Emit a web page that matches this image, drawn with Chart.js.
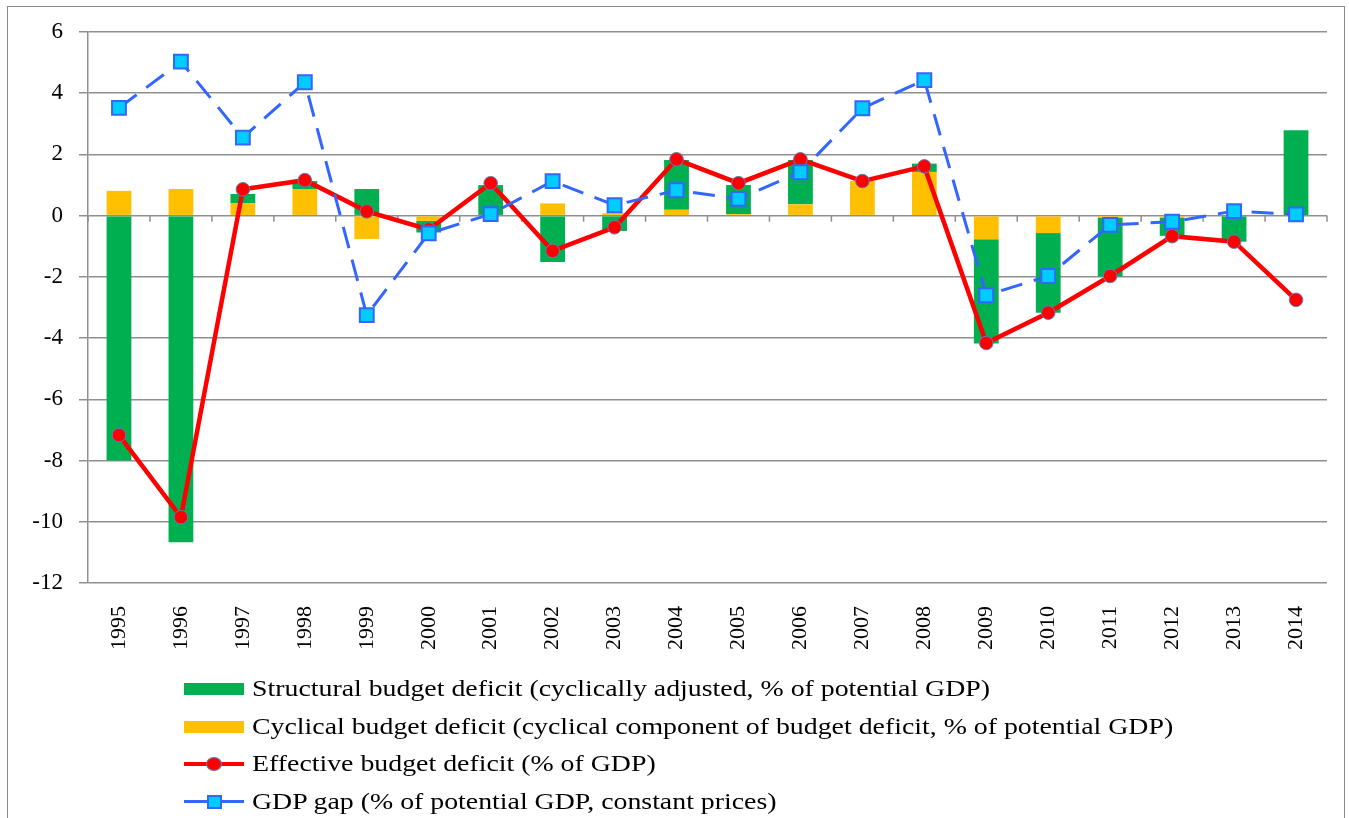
<!DOCTYPE html>
<html>
<head>
<meta charset="utf-8">
<script src="https://cdn.jsdelivr.net/npm/chart.js@4.4.1/dist/chart.umd.min.js"></script>
<style>
  html, body { margin: 0; padding: 0; background: #fff; }
  #wrap { position: relative; width: 1349px; height: 818px; overflow: hidden; }
  #frame { position: absolute; left: 7px; top: 6px; width: 1338px; height: 900px; border: 1.5px solid #8a8a8a; box-sizing: border-box; pointer-events: none; }
  canvas { position: absolute; left: 0; top: 0; }
  #legend { position: absolute; left: 184px; top: 670px; font-family: 'Liberation Serif', 'Times New Roman', serif; font-size: 23px; color: #000; }
  .row { display: flex; align-items: center; height: 37.7px; white-space: nowrap; }
  .mk { position: relative; width: 60px; height: 20px; margin-right: 8px; flex: none; }
  .sw { position: absolute; left: 0; top: 4px; width: 60px; height: 12px; }
  .ln { position: absolute; left: 0; width: 60px; }
  .dot { position: absolute; box-sizing: border-box; }
  .txt { display: inline-block; transform: scaleX(1.21); transform-origin: left center; }
</style>
</head>
<body>
<div id="wrap">
  <canvas id="c" width="1349" height="818"></canvas>
  <div id="frame"></div>
  <div id="legend"></div>
</div>
<script>
const years = ['1995','1996','1997','1998','1999','2000','2001','2002','2003','2004','2005','2006','2007','2008','2009','2010','2011','2012','2013','2014'];
const structural = [-8.0, -10.67, 0.30, 0.26, 0.87, -0.38, 1.0, -1.51, -0.5, 1.63, 0.95, 1.45, 0, 0.27, -3.41, -2.6, -1.92, -0.6, -0.85, 2.79];
const cyclical   = [0.81, 0.87, 0.41, 0.87, -0.76, -0.17, 0.0, 0.40, 0.08, 0.19, 0.05, 0.37, 1.13, 1.43, -0.77, -0.57, -0.07, -0.06, 0.0, 0.0];
const effective  = [-7.17, -9.85, 0.86, 1.16, 0.14, -0.45, 1.06, -1.15, -0.38, 1.84, 1.06, 1.84, 1.13, 1.61, -4.16, -3.17, -1.97, -0.67, -0.85, -2.75];
const gdpGap     = [3.52, 5.03, 2.55, 4.36, -3.25, -0.58, 0.05, 1.13, 0.34, 0.83, 0.55, 1.42, 3.51, 4.43, -2.6, -1.97, -0.3, -0.2, 0.15, 0.04];
const yTicks = [6, 4, 2, 0, -2, -4, -6, -8, -10, -12];

const labelStructural = 'Structural budget deficit (cyclically  adjusted, % of potential GDP)';
const labelCyclical = 'Cyclical budget deficit (cyclical  component of budget deficit, % of potential GDP)';
const labelEffective = 'Effective budget deficit (% of GDP)';
const labelGap = 'GDP gap (% of potential GDP, constant prices)';

const GREEN = '#00B050', YELLOW = '#FFC000', RED = '#FF0000', BLUE = '#3366FF', CYAN = '#00CCFF';
const GRID = '#8f8f8f';

const zeroTicks = {
  id: 'zeroTicks',
  beforeDatasetsDraw(chart) {
    const x = chart.scales.x, y = chart.scales.y;
    const y0 = y.getPixelForValue(0);
    const step = x.getPixelForValue(1) - x.getPixelForValue(0);
    const ctx = chart.ctx;
    ctx.save();
    ctx.strokeStyle = GRID;
    ctx.lineWidth = 1.5;
    ctx.beginPath();
    for (let i = 0; i <= years.length; i++) {
      const px = x.getPixelForValue(Math.min(i, years.length - 1)) + (i < years.length ? -step / 2 : step / 2);
      ctx.moveTo(px, y0);
      ctx.lineTo(px, y0 + 6);
    }
    ctx.stroke();
    ctx.restore();
  }
};

const chart = new Chart(document.getElementById('c'), {
  data: {
    labels: years,
    datasets: [
      { type: 'line', label: labelGap, data: gdpGap, stack: 'gap', borderColor: BLUE, borderWidth: 3, borderDash: [22, 12],
        pointStyle: 'rect', pointRadius: 9.8, pointBackgroundColor: CYAN, pointBorderColor: BLUE, pointBorderWidth: 2, tension: 0 },
      { type: 'line', label: labelEffective, data: effective, stack: 'eff', borderColor: RED, borderWidth: 4.5,
        pointStyle: 'circle', pointRadius: 6.8, pointBackgroundColor: RED, pointBorderColor: '#5b7fc0', pointBorderWidth: 1, tension: 0 },
      { type: 'bar', label: labelCyclical, data: cyclical, stack: 'bars', backgroundColor: YELLOW, categoryPercentage: 1, barPercentage: 0.4 },
      { type: 'bar', label: labelStructural, data: structural, stack: 'bars', backgroundColor: GREEN, categoryPercentage: 1, barPercentage: 0.4 }
    ]
  },
  options: {
    responsive: false,
    animation: false,
    layout: { padding: { left: 8, top: 32, right: 22, bottom: 155 } },
    plugins: { legend: { display: false }, tooltip: { enabled: false } },
    scales: {
      x: {
        stacked: true,
        grid: { display: false, drawTicks: false },
        border: { display: false },
        ticks: { autoSkip: false, minRotation: 90, maxRotation: 90, padding: 23, color: '#000',
                 font: { family: "'Liberation Serif', 'Times New Roman', serif", size: 22 } },
        afterFit(s) { s.height = 80; }
      },
      y: {
        stacked: true,
        min: -12, max: 6,
        afterBuildTicks(s) { s.ticks = yTicks.map(v => ({ value: v })); },
        grid: { color: GRID, lineWidth: 1.5, tickLength: 9, drawTicks: true },
        border: { display: true, color: GRID, width: 1.5 },
        ticks: { padding: 16, color: '#000', font: { family: "'Liberation Serif', 'Times New Roman', serif", size: 23 } },
        afterFit(s) { s.width = 80; }
      }
    }
  },
  plugins: [zeroTicks]
});

// HTML legend built from the chart datasets, in the reference's order
const legendOrder = [labelStructural, labelCyclical, labelEffective, labelGap];
const legend = document.getElementById('legend');
legendOrder.forEach(lbl => {
  const ds = chart.data.datasets.find(d => d.label === lbl);
  const row = document.createElement('div');
  row.className = 'row';
  const mk = document.createElement('span');
  mk.className = 'mk';
  if (ds.type === 'bar') {
    const sw = document.createElement('span');
    sw.className = 'sw';
    sw.style.background = ds.backgroundColor;
    mk.appendChild(sw);
  } else {
    const ln = document.createElement('span');
    ln.className = 'ln';
    ln.style.height = ds.borderWidth + 'px';
    ln.style.top = (10 - ds.borderWidth / 2) + 'px';
    ln.style.background = ds.borderColor;
    mk.appendChild(ln);
    const dot = document.createElement('span');
    dot.className = 'dot';
    const w = ds.pointStyle === 'circle' ? 16 : 15, h = ds.pointStyle === 'circle' ? 14 : 14;
    dot.style.width = w + 'px'; dot.style.height = h + 'px';
    dot.style.left = (30 - w / 2) + 'px'; dot.style.top = (10 - h / 2) + 'px';
    dot.style.background = ds.pointBackgroundColor;
    dot.style.border = ds.pointBorderWidth + 'px solid ' + ds.pointBorderColor;
    if (ds.pointStyle === 'circle') dot.style.borderRadius = '50%';
    mk.appendChild(dot);
  }
  row.appendChild(mk);
  const t = document.createElement('span');
  t.className = 'txt';
  t.textContent = lbl;
  row.appendChild(t);
  legend.appendChild(row);
});
</script>
</body>
</html>
